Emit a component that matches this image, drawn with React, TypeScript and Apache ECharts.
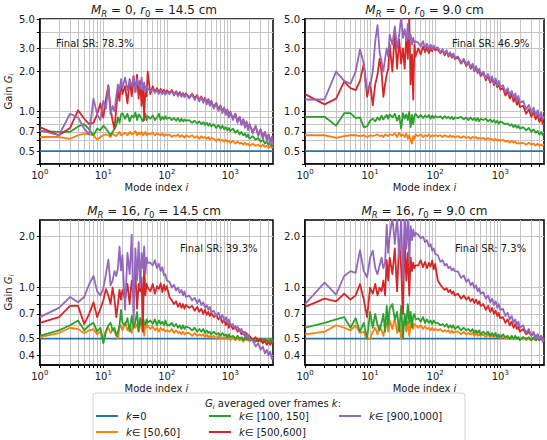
import { useEffect, useRef } from "react";
import * as echarts from "echarts";

// Mode indices at which the averaged gains are sampled
const modes = [
  1, 2, 3, 4, 5, 6, 7, 8, 9, 10, 11, 12, 13, 14, 15, 16, 17, 18, 19, 20,
  22, 24, 26, 28, 30, 32, 34, 36, 38, 40, 42, 44, 46, 48, 50,
  55, 60, 65, 70, 75, 80, 85, 90, 95, 100,
  110, 120, 130, 140, 150, 160, 170, 180, 190, 200,
  225, 250, 275, 300, 325, 350, 375, 400, 425, 450, 475, 500,
  550, 600, 650, 700, 750, 800, 850, 900, 950, 1000,
  1100, 1200, 1300, 1400, 1500, 1600, 1700, 1800, 1900, 2000,
  2250, 2500, 2750, 3000, 3250, 3500, 3750, 4000, 4250, 4500, 4700,
];

const seriesNames = ["k=0", "k∈ [50,60]", "k∈ [100, 150]", "k∈ [500,600]", "k∈ [900,1000]"];
const seriesColors = ["#1f77b4", "#ff7f0e", "#2ca02c", "#d62728", "#9467bd"];

// Gain at frame k=0 (flat initial gain) for each configuration
const gainFrame0 = [0.5, 0.5, 0.5, 0.5];

// ---- M_R = 0, r0 = 14.5 cm ----
const mr0r145k50 = [
  0.64, 0.64, 0.62, 0.66, 0.68, 0.67, 0.66, 0.61, 0.64, 0.66, 0.67, 0.66, 0.64, 0.68, 0.66, 0.65, 0.68, 0.70, 0.66, 0.67,
  0.69, 0.66, 0.70, 0.67, 0.68, 0.71, 0.66, 0.69, 0.67, 0.70, 0.66, 0.68, 0.70, 0.66, 0.68,
  0.67, 0.69, 0.66, 0.68, 0.67, 0.66, 0.68, 0.65, 0.67, 0.66,
  0.67, 0.64, 0.66, 0.65, 0.67, 0.64, 0.66, 0.65, 0.63, 0.66,
  0.64, 0.66, 0.63, 0.65, 0.62, 0.65, 0.63, 0.64, 0.62, 0.64, 0.61, 0.63,
  0.62, 0.60, 0.62, 0.60, 0.61, 0.59, 0.61, 0.59, 0.60, 0.58,
  0.60, 0.57, 0.59, 0.57, 0.58, 0.56, 0.58, 0.56, 0.57, 0.55,
  0.57, 0.55, 0.56, 0.54, 0.56, 0.54, 0.55, 0.53, 0.55, 0.53, 0.54,
];
const mr0r145k100 = [
  0.71, 0.70, 0.70, 0.77, 0.80, 0.73, 0.66, 0.74, 0.72, 0.78, 0.74, 0.70, 0.66, 0.70, 0.74, 0.78, 0.90, 0.82, 0.95, 0.97,
  0.88, 0.96, 0.84, 0.93, 0.90, 0.98, 0.86, 0.95, 0.92, 0.88, 0.84, 0.90, 0.96, 0.86, 0.92,
  0.88, 0.93, 0.86, 0.90, 0.96, 0.86, 0.91, 0.87, 0.92, 0.88,
  0.90, 0.86, 0.89, 0.85, 0.89, 0.84, 0.88, 0.84, 0.87, 0.85,
  0.86, 0.82, 0.85, 0.81, 0.84, 0.80, 0.83, 0.79, 0.82, 0.78, 0.81, 0.77,
  0.80, 0.75, 0.79, 0.74, 0.78, 0.73, 0.76, 0.72, 0.75, 0.71,
  0.74, 0.69, 0.72, 0.67, 0.70, 0.66, 0.68, 0.64, 0.67, 0.62,
  0.65, 0.61, 0.63, 0.59, 0.61, 0.57, 0.59, 0.56, 0.58, 0.55, 0.56,
];
const mr0r145k500 = [
  0.76, 0.66, 0.75, 1.02, 0.88, 0.80, 0.82, 0.95, 1.15, 0.90, 1.25, 1.58, 1.05, 0.85, 0.74, 1.05, 1.45, 1.20, 1.70, 1.35,
  1.55, 1.15, 1.75, 1.30, 1.85, 1.40, 1.90, 1.25, 1.70, 1.10, 1.60, 0.86, 1.50, 1.30, 2.00,
  1.35, 1.55, 1.40, 1.50, 1.38, 1.48, 1.40, 1.46, 1.36, 1.44,
  1.38, 1.45, 1.35, 1.42, 1.33, 1.40, 1.32, 1.38, 1.30, 1.37,
  1.28, 1.36, 1.26, 1.33, 1.22, 1.30, 1.20, 1.27, 1.16, 1.24, 1.13, 1.20,
  1.08, 1.16, 1.04, 1.11, 1.00, 1.07, 0.96, 1.03, 0.92, 0.99,
  0.88, 0.96, 0.84, 0.91, 0.80, 0.87, 0.77, 0.83, 0.74, 0.80,
  0.70, 0.77, 0.67, 0.73, 0.64, 0.70, 0.62, 0.67, 0.59, 0.64, 0.57,
];
const mr0r145k900 = [
  0.72, 0.66, 0.96, 0.90, 0.74, 0.67, 1.25, 0.95, 0.86, 1.20, 1.05, 1.55, 0.95, 1.10, 1.00, 1.30, 1.60, 1.40, 1.75, 1.50,
  1.80, 1.45, 1.70, 1.55, 1.85, 1.40, 1.75, 1.60, 1.50, 1.80, 1.45, 1.65, 1.40, 1.55, 1.50,
  1.42, 1.48, 1.38, 1.45, 1.36, 1.44, 1.35, 1.42, 1.34, 1.40,
  1.35, 1.42, 1.32, 1.40, 1.30, 1.38, 1.29, 1.36, 1.28, 1.35,
  1.25, 1.34, 1.22, 1.31, 1.19, 1.28, 1.16, 1.25, 1.13, 1.22, 1.10, 1.18,
  1.05, 1.15, 1.01, 1.10, 0.97, 1.06, 0.94, 1.02, 0.90, 0.98,
  0.86, 0.96, 0.82, 0.91, 0.79, 0.87, 0.75, 0.84, 0.72, 0.80,
  0.68, 0.78, 0.65, 0.73, 0.62, 0.70, 0.60, 0.67, 0.57, 0.64, 0.55,
];

// ---- M_R = 0, r0 = 9.0 cm ----
const mr0r90k50 = [
  0.66, 0.66, 0.63, 0.65, 0.66, 0.66, 0.65, 0.66, 0.64, 0.66, 0.65, 0.66, 0.67, 0.65, 0.66, 0.64, 0.67, 0.66, 0.65, 0.67,
  0.66, 0.68, 0.64, 0.69, 0.65, 0.67, 0.64, 0.68, 0.62, 0.66, 0.60, 0.57, 0.65, 0.62, 0.67,
  0.65, 0.67, 0.64, 0.66, 0.65, 0.67, 0.64, 0.66, 0.65, 0.66,
  0.65, 0.66, 0.64, 0.66, 0.65, 0.64, 0.66, 0.64, 0.65, 0.64,
  0.65, 0.63, 0.65, 0.63, 0.64, 0.62, 0.64, 0.63, 0.64, 0.62, 0.63, 0.62,
  0.63, 0.61, 0.63, 0.61, 0.62, 0.60, 0.62, 0.60, 0.61, 0.60,
  0.61, 0.59, 0.60, 0.58, 0.60, 0.58, 0.59, 0.57, 0.58, 0.57,
  0.58, 0.56, 0.58, 0.56, 0.57, 0.55, 0.57, 0.55, 0.56, 0.55, 0.56,
];
const mr0r90k100 = [
  0.91, 0.91, 0.78, 0.97, 0.97, 0.89, 0.90, 0.76, 0.77, 0.85, 0.88, 0.84, 0.90, 0.86, 0.93, 0.87, 0.91, 0.94, 0.88, 0.95,
  0.90, 0.96, 0.85, 0.93, 0.74, 0.97, 0.88, 0.95, 0.86, 0.99, 0.76, 0.94, 0.80, 0.92, 0.96,
  0.90, 0.94, 0.89, 0.93, 0.90, 0.94, 0.88, 0.93, 0.89, 0.92,
  0.90, 0.92, 0.88, 0.92, 0.89, 0.91, 0.88, 0.91, 0.87, 0.90,
  0.89, 0.91, 0.87, 0.90, 0.86, 0.90, 0.86, 0.89, 0.85, 0.89, 0.84, 0.88,
  0.86, 0.88, 0.84, 0.87, 0.83, 0.86, 0.82, 0.85, 0.81, 0.84,
  0.82, 0.80, 0.81, 0.78, 0.80, 0.76, 0.79, 0.75, 0.78, 0.74,
  0.76, 0.72, 0.75, 0.70, 0.73, 0.69, 0.71, 0.67, 0.70, 0.66, 0.67,
];
const mr0r90k500 = [
  1.35, 1.13, 1.25, 1.68, 1.50, 1.45, 1.70, 2.30, 1.29, 1.66, 1.11, 1.60, 1.90, 2.50, 2.00, 1.29, 1.60, 1.90, 2.10, 3.20,
  2.00, 4.00, 2.10, 3.50, 2.30, 3.00, 2.10, 3.80, 2.50, 5.20, 1.60, 2.70, 1.23, 3.20, 2.60,
  3.00, 2.70, 3.10, 2.80, 3.05, 2.75, 3.00, 2.85, 3.10, 2.90,
  2.95, 2.75, 2.90, 2.65, 2.85, 2.60, 2.75, 2.55, 2.70, 2.50,
  2.55, 2.30, 2.45, 2.20, 2.35, 2.10, 2.25, 2.02, 2.15, 1.95, 2.05, 1.85,
  1.95, 1.72, 1.86, 1.65, 1.78, 1.58, 1.72, 1.52, 1.65, 1.46,
  1.50, 1.32, 1.42, 1.25, 1.35, 1.18, 1.28, 1.12, 1.22, 1.08,
  1.10, 0.96, 1.04, 0.91, 0.99, 0.87, 0.94, 0.83, 0.90, 0.80, 0.82,
];
const mr0r90k900 = [
  1.23, 1.23, 2.00, 1.70, 1.62, 2.00, 2.95, 2.30, 1.45, 1.55, 2.00, 3.40, 4.50, 2.80, 2.40, 2.00, 2.50, 3.00, 2.60, 3.80,
  3.20, 4.40, 3.00, 3.80, 5.20, 3.60, 4.20, 3.40, 4.60, 3.50, 3.80, 3.20, 3.60, 3.30, 3.40,
  3.30, 3.10, 3.40, 3.00, 3.25, 2.95, 3.20, 2.95, 3.15, 3.00,
  3.05, 2.80, 2.95, 2.72, 2.90, 2.65, 2.80, 2.60, 2.75, 2.55,
  2.60, 2.35, 2.50, 2.25, 2.40, 2.15, 2.30, 2.05, 2.20, 1.98, 2.10, 1.90,
  2.00, 1.78, 1.92, 1.70, 1.84, 1.63, 1.77, 1.57, 1.70, 1.52,
  1.58, 1.40, 1.50, 1.33, 1.43, 1.27, 1.37, 1.21, 1.31, 1.16,
  1.20, 1.04, 1.12, 0.98, 1.07, 0.94, 1.02, 0.90, 0.98, 0.87, 0.92,
];

// ---- M_R = 16, r0 = 14.5 cm ----
const mr16r145k50 = [
  0.51, 0.54, 0.58, 0.57, 0.54, 0.56, 0.57, 0.53, 0.55, 0.50, 0.56, 0.58, 0.54, 0.57, 0.55, 0.53, 0.50, 0.58, 0.60, 0.56,
  0.62, 0.56, 0.60, 0.54, 0.63, 0.58, 0.61, 0.55, 0.64, 0.57, 0.60, 0.52, 0.62, 0.58, 0.60,
  0.57, 0.59, 0.56, 0.58, 0.55, 0.58, 0.56, 0.57, 0.55, 0.56,
  0.55, 0.57, 0.54, 0.56, 0.54, 0.55, 0.53, 0.55, 0.53, 0.54,
  0.54, 0.52, 0.54, 0.52, 0.53, 0.52, 0.53, 0.51, 0.53, 0.51, 0.52, 0.51,
  0.52, 0.50, 0.52, 0.50, 0.51, 0.50, 0.51, 0.50, 0.51, 0.49,
  0.51, 0.49, 0.50, 0.49, 0.50, 0.48, 0.50, 0.49, 0.50, 0.48,
  0.50, 0.48, 0.50, 0.49, 0.50, 0.48, 0.50, 0.49, 0.50, 0.48, 0.49,
];
const mr16r145k100 = [
  0.52, 0.56, 0.60, 0.64, 0.56, 0.60, 0.62, 0.55, 0.58, 0.47, 0.55, 0.60, 0.62, 0.56, 0.58, 0.52, 0.55, 0.60, 0.74, 0.62,
  0.60, 0.66, 0.55, 0.68, 0.58, 0.63, 0.72, 0.55, 0.66, 0.60, 0.67, 0.62, 0.60, 0.65, 0.62,
  0.64, 0.61, 0.65, 0.60, 0.64, 0.61, 0.63, 0.60, 0.64, 0.60,
  0.60, 0.62, 0.59, 0.61, 0.58, 0.60, 0.57, 0.60, 0.57, 0.59,
  0.58, 0.56, 0.58, 0.55, 0.57, 0.55, 0.57, 0.54, 0.56, 0.54, 0.55, 0.53,
  0.55, 0.53, 0.54, 0.52, 0.54, 0.52, 0.53, 0.51, 0.53, 0.51,
  0.52, 0.50, 0.52, 0.50, 0.51, 0.49, 0.51, 0.49, 0.50, 0.49,
  0.50, 0.48, 0.50, 0.48, 0.50, 0.48, 0.49, 0.48, 0.50, 0.47, 0.49,
];
const mr16r145k500 = [
  0.62, 0.67, 0.78, 0.78, 0.61, 0.70, 0.82, 0.67, 0.75, 0.84, 0.98, 0.90, 0.80, 1.00, 0.85, 0.67, 0.80, 0.97, 0.85, 0.97,
  0.85, 1.05, 0.80, 1.10, 0.90, 1.20, 0.75, 1.05, 0.95, 1.15, 0.55, 1.40, 0.90, 1.05, 1.00,
  0.95, 1.05, 0.92, 1.02, 0.98, 1.06, 0.94, 1.04, 0.96, 1.02,
  0.88, 0.84, 0.80, 0.83, 0.77, 0.81, 0.76, 0.80, 0.75, 0.79,
  0.76, 0.78, 0.73, 0.77, 0.72, 0.75, 0.70, 0.74, 0.69, 0.72, 0.68, 0.71,
  0.67, 0.69, 0.65, 0.67, 0.62, 0.65, 0.60, 0.63, 0.58, 0.61,
  0.57, 0.59, 0.55, 0.57, 0.53, 0.55, 0.52, 0.54, 0.51, 0.52,
  0.49, 0.51, 0.48, 0.50, 0.47, 0.49, 0.46, 0.48, 0.46, 0.48, 0.47,
];
const mr16r145k900 = [
  0.67, 0.76, 0.88, 0.82, 0.88, 1.05, 1.17, 0.95, 0.90, 0.99, 1.20, 1.46, 1.03, 1.10, 1.25, 1.17, 1.30, 1.74, 1.26, 1.55,
  0.74, 1.60, 1.20, 2.05, 0.62, 1.70, 1.10, 1.85, 1.00, 1.60, 1.30, 1.75, 1.20, 1.50, 1.40,
  1.40, 1.35, 1.45, 1.30, 1.38, 1.25, 1.32, 1.18, 1.20, 1.10,
  1.08, 1.00, 1.04, 0.96, 1.00, 0.93, 0.97, 0.90, 0.95, 0.88,
  0.90, 0.84, 0.87, 0.81, 0.85, 0.79, 0.82, 0.76, 0.79, 0.74, 0.77, 0.72,
  0.73, 0.68, 0.71, 0.66, 0.69, 0.64, 0.67, 0.62, 0.65, 0.60,
  0.61, 0.57, 0.59, 0.55, 0.57, 0.53, 0.55, 0.51, 0.53, 0.49,
  0.49, 0.45, 0.47, 0.43, 0.45, 0.41, 0.43, 0.40, 0.42, 0.38, 0.39,
];

// ---- M_R = 16, r0 = 9.0 cm ----
const mr16r90k50 = [
  0.53, 0.55, 0.60, 0.58, 0.56, 0.60, 0.54, 0.55, 0.50, 0.50, 0.55, 0.58, 0.53, 0.60, 0.56, 0.52, 0.58, 0.62, 0.55, 0.64,
  0.57, 0.66, 0.54, 0.62, 0.50, 0.60, 0.65, 0.55, 0.63, 0.52, 0.60, 0.64, 0.57, 0.61, 0.60,
  0.58, 0.60, 0.57, 0.59, 0.57, 0.58, 0.56, 0.58, 0.56, 0.57,
  0.56, 0.57, 0.55, 0.56, 0.55, 0.56, 0.54, 0.56, 0.54, 0.55,
  0.55, 0.53, 0.55, 0.53, 0.54, 0.53, 0.54, 0.52, 0.54, 0.52, 0.53, 0.52,
  0.53, 0.51, 0.53, 0.51, 0.52, 0.51, 0.52, 0.51, 0.52, 0.50,
  0.52, 0.50, 0.51, 0.50, 0.51, 0.50, 0.51, 0.50, 0.51, 0.49,
  0.51, 0.49, 0.50, 0.49, 0.50, 0.49, 0.50, 0.49, 0.50, 0.49, 0.50,
];
const mr16r90k100 = [
  0.58, 0.62, 0.65, 0.67, 0.58, 0.66, 0.55, 0.62, 0.50, 0.72, 0.58, 0.70, 0.60, 0.56, 0.62, 0.70, 0.55, 0.78, 0.60, 0.75,
  0.80, 0.65, 0.72, 0.55, 0.78, 0.50, 0.70, 0.60, 0.80, 0.62, 0.72, 0.58, 0.68, 0.70, 0.65,
  0.66, 0.63, 0.67, 0.62, 0.65, 0.62, 0.64, 0.61, 0.64, 0.62,
  0.62, 0.60, 0.61, 0.59, 0.61, 0.58, 0.60, 0.58, 0.60, 0.57,
  0.59, 0.56, 0.58, 0.56, 0.57, 0.55, 0.57, 0.54, 0.56, 0.54, 0.56, 0.53,
  0.55, 0.53, 0.55, 0.52, 0.54, 0.52, 0.54, 0.51, 0.53, 0.51,
  0.53, 0.51, 0.52, 0.50, 0.52, 0.50, 0.52, 0.50, 0.51, 0.49,
  0.51, 0.50, 0.51, 0.49, 0.51, 0.49, 0.50, 0.49, 0.50, 0.49, 0.50,
];
const mr16r90k500 = [
  0.77, 0.86, 0.83, 0.92, 0.85, 0.90, 1.05, 0.85, 0.67, 1.00, 0.92, 1.05, 0.90, 1.00, 0.95, 1.10, 0.90, 1.45, 1.10, 1.50,
  1.20, 1.70, 0.95, 1.90, 1.30, 0.70, 2.00, 1.10, 1.60, 0.90, 1.50, 1.25, 1.40, 1.30, 1.35,
  1.35, 1.45, 1.32, 1.42, 1.30, 1.40, 1.33, 1.44, 1.28, 1.38,
  1.10, 1.04, 1.00, 0.97, 0.99, 0.94, 0.97, 0.92, 0.95, 0.90,
  0.92, 0.86, 0.90, 0.85, 0.88, 0.83, 0.86, 0.81, 0.85, 0.80, 0.83, 0.78,
  0.80, 0.74, 0.78, 0.72, 0.76, 0.70, 0.73, 0.68, 0.71, 0.66,
  0.67, 0.62, 0.65, 0.60, 0.63, 0.58, 0.61, 0.57, 0.59, 0.55,
  0.57, 0.53, 0.55, 0.52, 0.54, 0.51, 0.53, 0.50, 0.52, 0.49, 0.51,
];
const mr16r90k900 = [
  0.80, 1.07, 0.91, 1.17, 1.25, 1.22, 1.66, 1.25, 1.15, 1.50, 1.65, 1.30, 1.20, 1.35, 1.50, 1.30, 1.40, 2.35, 1.60, 2.00,
  2.60, 1.80, 2.60, 1.50, 2.60, 1.10, 2.70, 1.70, 2.60, 1.40, 2.30, 1.90, 2.20, 2.00, 2.10,
  2.05, 1.95, 2.00, 1.85, 1.90, 1.75, 1.80, 1.65, 1.70, 1.58,
  1.55, 1.42, 1.45, 1.35, 1.38, 1.30, 1.33, 1.26, 1.30, 1.25,
  1.24, 1.14, 1.18, 1.08, 1.12, 1.03, 1.07, 0.99, 1.03, 0.95, 0.99, 0.92,
  0.94, 0.86, 0.90, 0.82, 0.86, 0.79, 0.83, 0.76, 0.80, 0.74,
  0.75, 0.68, 0.71, 0.65, 0.68, 0.62, 0.65, 0.60, 0.63, 0.58,
  0.60, 0.54, 0.57, 0.52, 0.55, 0.50, 0.53, 0.49, 0.52, 0.48, 0.50,
];

const panelMR = ["0", "0", "16", "16"];
const panelR0 = ["14.5", "9.0", "14.5", "9.0"];
const finalSR = ["78.3%", "46.9%", "39.3%", "7.3%"];
const panelCurves = [
  [mr0r145k50, mr0r145k100, mr0r145k500, mr0r145k900],
  [mr0r90k50, mr0r90k100, mr0r90k500, mr0r90k900],
  [mr16r145k50, mr16r145k100, mr16r145k500, mr16r145k900],
  [mr16r90k50, mr16r90k100, mr16r90k500, mr16r90k900],
];

// Log-axis ticks
const xTickValues = [
  1, 2, 3, 4, 5, 6, 7, 8, 9, 10, 20, 30, 40, 50, 60, 70, 80, 90,
  100, 200, 300, 400, 500, 600, 700, 800, 900, 1000, 2000, 3000, 4000,
];
const xLabelExponents = [0, 1, 2, 3];
const yTickValues = [0.4, 0.5, 0.6, 0.7, 0.8, 0.9, 1, 2, 3, 4, 5];
const yLabelsTop = [0.5, 0.7, 1, 2, 3, 5];
const yLabelsBottom = [0.4, 0.5, 0.7, 1, 2];
const yRangeTop = [0.4, 5];
const yRangeBottom = [0.35, 2.5];

const FONT = "DejaVu Sans";
const TEXT = "#1a1a1a";

const grids = [
  { left: 35, top: 19, width: 238, height: 145 },
  { left: 305, top: 19, width: 239, height: 145 },
  { left: 35, top: 220, width: 238, height: 145 },
  { left: 305, top: 220, width: 239, height: 145 },
];
const srPos = [
  { x: 56, y: 43 },
  { x: 452, y: 43 },
  { x: 180, y: 248 },
  { x: 455, y: 248 },
];

const lg = (v: number) => Math.log10(v);

function buildOption() {
  const xMax = lg(modes[modes.length - 1]);
  const xMin = lg(modes[0]);
  const italic = { fontStyle: "italic", fontSize: 10, fontFamily: FONT, color: TEXT };
  const gridLine = { show: true, lineStyle: { color: "#c4c4c4", width: 1 } };
  const spine = { show: true, onZero: false, lineStyle: { color: "#000", width: 1.5 } };
  const tick = (vals: number[]) => ({
    show: true,
    customValues: vals.map(lg),
    length: 3,
    inside: false,
    lineStyle: { color: "#000", width: 1 },
  });

  const xAxis = grids.map((_, g) => ({
    type: "value",
    gridIndex: g,
    min: xMin,
    max: xMax,
    axisLine: spine,
    axisTick: tick(xTickValues),
    splitLine: gridLine,
    axisLabel: {
      customValues: xLabelExponents,
      formatter: (v: number) => `10{sup|${Math.round(v)}}`,
      color: TEXT,
      fontSize: 10,
      fontFamily: FONT,
      margin: 4,
      lineHeight: 14,
      rich: {
        sup: { fontSize: 7, lineHeight: 8, verticalAlign: "top", fontFamily: FONT, color: TEXT },
      },
    },
    name: "Mode index {it|i}",
    nameLocation: "middle",
    nameGap: 17,
    nameTextStyle: { fontSize: 10, fontFamily: FONT, color: TEXT, rich: { it: italic } },
  }));

  const yAxis = grids.map((_, g) => {
    const top = g < 2;
    const range = top ? yRangeTop : yRangeBottom;
    return {
      type: "value",
      gridIndex: g,
      min: lg(range[0]),
      max: lg(range[1]),
      axisLine: spine,
      axisTick: tick(yTickValues),
      splitLine: gridLine,
      axisLabel: {
        customValues: (top ? yLabelsTop : yLabelsBottom).map(lg),
        formatter: (v: number) => Math.pow(10, v).toFixed(1),
        color: TEXT,
        fontSize: 10,
        fontFamily: FONT,
        margin: 5,
      },
      name: g % 2 === 0 ? "Gain {it|G}{sub|i}" : "",
      nameLocation: "middle",
      nameRotate: 90,
      nameGap: 23,
      nameTextStyle: {
        fontSize: 10,
        fontFamily: FONT,
        color: TEXT,
        lineHeight: 14,
        rich: {
          it: { ...italic, lineHeight: 14 },
          sub: { fontStyle: "italic", fontSize: 7, lineHeight: 8, verticalAlign: "bottom", fontFamily: FONT, color: TEXT },
        },
      },
    };
  });

  const series: any[] = [];
  grids.forEach((_, g) => {
    const base = {
      type: "line",
      xAxisIndex: g,
      yAxisIndex: g,
      showSymbol: false,
      symbol: "none",
      clip: true,
      silent: true,
      emphasis: { disabled: true },
    };
    series.push({
      ...base,
      name: seriesNames[0],
      color: seriesColors[0],
      itemStyle: { color: seriesColors[0] },
      lineStyle: { color: seriesColors[0], width: 1.8 },
      data: [
        [xMin, lg(gainFrame0[g])],
        [xMax, lg(gainFrame0[g])],
      ],
    });
    panelCurves[g].forEach((vals, c) => {
      const color = seriesColors[c + 1];
      series.push({
        ...base,
        name: seriesNames[c + 1],
        color,
        itemStyle: { color },
        lineStyle: { color, width: 1.8, join: "round" },
        data: modes.map((m, j) => [lg(m), lg(vals[j])]),
      });
    });
  });

  // Legend laid out column by column, two rows high
  const legendCols = [
    [seriesNames[0], seriesNames[1]],
    [seriesNames[2], seriesNames[3]],
    [seriesNames[4]],
  ];
  const legendLeft = [96, 209, 339];
  const legend = legendCols.map((names, col) => ({
    orient: "vertical",
    left: legendLeft[col],
    top: 410,
    height: 30,
    padding: 0,
    itemWidth: 22,
    itemHeight: 2,
    itemGap: 4,
    icon: "rect",
    selectedMode: false,
    z: 10,
    data: names,
    formatter: (name: string) => `{it|k}${name.slice(1)}`,
    textStyle: {
      fontSize: 10,
      fontFamily: FONT,
      color: TEXT,
      lineHeight: 12,
      padding: [0, 0, 0, 3],
      rich: { it: { ...italic, lineHeight: 12 } },
    },
  }));

  const graphic: any[] = [];
  // Legend frame and heading
  graphic.push({
    type: "rect",
    z: 1,
    shape: { x: 93, y: 393, width: 372, height: 60, r: 3 },
    style: { fill: "rgba(255,255,255,0.85)", stroke: "#d4d4d4", lineWidth: 1 },
  });
  graphic.push({
    type: "text",
    z: 2,
    x: 273,
    y: 403,
    style: {
      text: "{it|G}{sub|i} averaged over frames {it|k}:",
      align: "center",
      verticalAlign: "middle",
      fontSize: 10,
      fontFamily: FONT,
      fill: TEXT,
      lineHeight: 14,
      rich: {
        it: { fontStyle: "italic", fontSize: 10, fontFamily: FONT, fill: TEXT, lineHeight: 14 },
        sub: { fontStyle: "italic", fontSize: 7, fontFamily: FONT, fill: TEXT, lineHeight: 8, verticalAlign: "bottom" },
      },
    },
  });
  // Panel titles and success-rate notes
  grids.forEach((gr, g) => {
    graphic.push({
      type: "text",
      z: 2,
      x: gr.left + gr.width / 2,
      y: g < 2 ? 10 : 211,
      style: {
        text: `{it|M}{subi|R} = ${panelMR[g]}, {it|r}{sub|0} = ${panelR0[g]} cm`,
        align: "center",
        verticalAlign: "middle",
        fontSize: 12,
        fontFamily: FONT,
        fill: TEXT,
        lineHeight: 17,
        rich: {
          it: { fontStyle: "italic", fontSize: 12, fontFamily: FONT, fill: TEXT, lineHeight: 17 },
          subi: { fontStyle: "italic", fontSize: 8.5, fontFamily: FONT, fill: TEXT, lineHeight: 10, verticalAlign: "bottom" },
          sub: { fontSize: 8.5, fontFamily: FONT, fill: TEXT, lineHeight: 10, verticalAlign: "bottom" },
        },
      },
    });
    graphic.push({
      type: "text",
      z: 2,
      x: srPos[g].x,
      y: srPos[g].y,
      style: {
        text: `Final SR: ${finalSR[g]}`,
        align: "left",
        verticalAlign: "middle",
        fontSize: 10,
        fontFamily: FONT,
        fill: TEXT,
      },
    });
  });

  return {
    animation: false,
    backgroundColor: "#ffffff",
    textStyle: { fontFamily: FONT },
    grid: grids.map((gr) => ({
      ...gr,
      show: true,
      borderColor: "#000",
      borderWidth: 1.5,
      backgroundColor: "#fff",
      containLabel: false,
    })),
    xAxis,
    yAxis,
    legend,
    series,
    graphic,
  };
}

export default function App() {
  const ref = useRef<HTMLDivElement>(null);
  useEffect(() => {
    if (!ref.current) return;
    const chart = echarts.init(ref.current, null, { renderer: "svg" });
    chart.setOption(buildOption() as any);
    return () => chart.dispose();
  }, []);
  return (
    <div
      ref={ref}
      style={{ position: "fixed", left: 0, top: 0, width: 547, height: 440, background: "#fff" }}
    />
  );
}
